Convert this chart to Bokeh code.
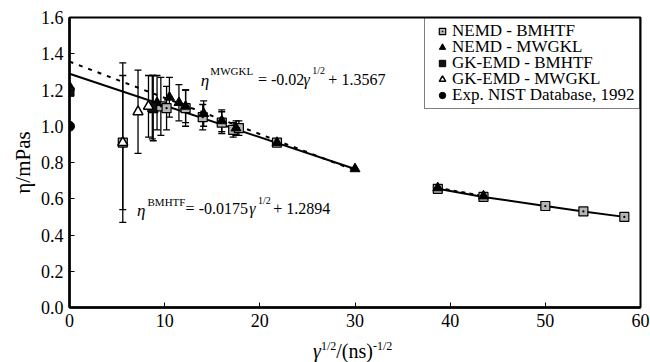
import math
from bokeh.plotting import figure
from bokeh.layouts import column
from bokeh.models import (ColumnDataSource, Whisker, TeeHead, Label, Legend,
                          LegendItem, NumeralTickFormatter, Div)
from bokeh.embed import file_html
from bokeh.resources import INLINE

# ---------------- data ----------------
x_ticks = [0, 10, 20, 30, 40, 50, 60]
y_ticks = [0.0, 0.2, 0.4, 0.6, 0.8, 1.0, 1.2, 1.4, 1.6]

nemd_bmhtf_x = [5.6, 8.8, 9.6, 10.2, 12.2, 14.0, 16.0, 17.2, 17.8, 21.8, 38.7, 43.5, 50.0, 54.0, 58.3]
nemd_bmhtf_y = [0.91, 1.10, 1.11, 1.10, 1.10, 1.05, 1.02, 0.98, 0.99, 0.91, 0.655, 0.61, 0.56, 0.53, 0.50]
nemd_bmhtf_err = [0.44, 0.18, 0.16, 0.12, 0.10, 0.07, 0.06, 0.04, 0.04, 0.02, 0, 0, 0, 0, 0]

nemd_mwgkl_x = [0.0, 9.2, 10.5, 11.5, 12.2, 14.1, 16.0, 17.5, 21.8, 30.0, 38.7, 43.5]
nemd_mwgkl_y = [1.22, 1.13, 1.16, 1.13, 1.11, 1.07, 1.03, 0.99, 0.91, 0.765, 0.66, 0.615]
nemd_mwgkl_err = [0, 0.15, 0.11, 0.10, 0.09, 0.07, 0.06, 0.04, 0.02, 0, 0, 0]

gk_bmhtf_x = [0.0, 8.7]
gk_bmhtf_y = [1.19, 1.105]
gk_bmhtf_err = [0, 0.175]

gk_mwgkl_x = [5.6, 7.2, 8.3]
gk_mwgkl_y = [0.91, 1.08, 1.11]
gk_mwgkl_err = [0.37, 0.23, 0.17]

nist_x = [0.0]
nist_y = [1.0]

fit_x = [0.0, 30.0]
bmhtf_fit_y = [1.2894, 0.7644]
mwgkl_fit_y = [1.3567, 0.7567]

legend_labels = ["NEMD - BMHTF", "NEMD - MWGKL", "GK-EMD - BMHTF",
                 "GK-EMD - MWGKL", "Exp. NIST Database, 1992"]

SERIF = "Liberation Serif"

p = figure(width=650, height=336, x_range=(0, 60), y_range=(0, 1.6),
           output_backend="svg", toolbar_location=None,
           min_border_left=69, min_border_right=10, min_border_top=17,
           min_border_bottom=29)
p.xgrid.visible = False
p.ygrid.visible = False
p.outline_line_color = "black"
p.outline_line_width = 2
p.outline_line_alpha = 1

for ax in (p.xaxis[0], p.yaxis[0]):
    ax.axis_line_width = 2.5
    ax.major_tick_in = 5
    ax.major_tick_out = 0
    ax.major_tick_line_width = 1
    ax.minor_tick_line_color = None
    ax.major_label_text_font = SERIF
    ax.major_label_text_font_size = "18px"
    ax.major_label_text_color = "black"
    ax.major_label_standoff = 6
p.xaxis.ticker = x_ticks
p.yaxis.ticker = y_ticks
p.yaxis.formatter = NumeralTickFormatter(format="0.0")
p.yaxis.axis_label = "η/mPas"
p.yaxis.axis_label_text_font = SERIF
p.yaxis.axis_label_text_font_size = "21px"
p.yaxis.axis_label_text_font_style = "normal"
p.yaxis.axis_label_text_color = "black"
p.yaxis.axis_label_standoff = 3


def whiskers(xs, ys, es):
    bx, up, lo = [], [], []
    for x, y, e in zip(xs, ys, es):
        if e > 0:
            bx.append(x)
            up.append(y + e)
            lo.append(y - e)
    src = ColumnDataSource(dict(x=bx, upper=up, lower=lo))
    w = Whisker(source=src, base="x", upper="upper", lower="lower",
                dimension="height", line_width=1.3, line_color="black",
                upper_head=TeeHead(size=7, line_width=1.3, line_color="black"),
                lower_head=TeeHead(size=7, line_width=1.3, line_color="black"))
    p.add_layout(w)


whiskers(gk_bmhtf_x, gk_bmhtf_y, gk_bmhtf_err)
whiskers(nemd_bmhtf_x, nemd_bmhtf_y, nemd_bmhtf_err)
whiskers(nemd_mwgkl_x, nemd_mwgkl_y, nemd_mwgkl_err)
whiskers(gk_mwgkl_x, gk_mwgkl_y, gk_mwgkl_err)

# fit lines
p.line(fit_x, bmhtf_fit_y, line_width=2, line_color="black")
p.line(fit_x, mwgkl_fit_y, line_width=2, line_color="black", line_dash="4 6")
# high-rate segments
p.line(nemd_bmhtf_x[10:], nemd_bmhtf_y[10:], line_width=2, line_color="black")
p.line(nemd_mwgkl_x[10:], nemd_mwgkl_y[10:], line_width=2, line_color="black", line_dash="4 4")

r1 = p.scatter(nemd_bmhtf_x, nemd_bmhtf_y, marker="square_dot", size=9,
               fill_color="#b5b5b5", line_color="black", line_width=1.2)
r2 = p.scatter(nemd_mwgkl_x, nemd_mwgkl_y, marker="triangle", size=10,
               fill_color="black", line_color="black")
r3 = p.scatter(gk_bmhtf_x, gk_bmhtf_y, marker="square", size=9,
               fill_color="#111111", line_color="black")
r4 = p.scatter(gk_mwgkl_x, gk_mwgkl_y, marker="triangle", size=10,
               fill_color="white", line_color="black", line_width=1.5)
r5 = p.scatter(nist_x, nist_y, marker="circle", size=10,
               fill_color="black", line_color="black")

# legend box with glyphs (compact rows); texts drawn as labels
legend = Legend(items=[LegendItem(label=" ", renderers=[r])
                       for r in [r1, r2, r3, r4, r5]],
                location="top_right", margin=0, padding=5, spacing=0,
                label_height=16, glyph_height=16, glyph_width=24,
                label_width=180, label_standoff=0,
                label_text_font_size="8px",
                border_line_color="black", border_line_width=1.5,
                background_fill_alpha=0)
p.add_layout(legend)

# legend row centres (data units of the frame)
legend_text_x = 40.2
legend_text_y = [1.528, 1.440, 1.352, 1.263, 1.175]
for lab, ly in zip(legend_labels, legend_text_y):
    p.add_layout(Label(x=legend_text_x, y=ly, text=lab, text_font=SERIF,
                       text_font_size="17px", text_color="black",
                       text_baseline="middle", text_align="left"))


def lbl(px, py, text, size, italic=False):
    p.add_layout(Label(x=px, y=py, text=text, text_font=SERIF,
                       text_font_size=size, text_color="black",
                       text_font_style="italic" if italic else "normal",
                       text_baseline="alphabetic", text_align="left"))


# equation MWGKL
lbl(13.8, 1.254, "η", "17px", True)
lbl(14.8, 1.305, "MWGKL", "11px")
lbl(19.8, 1.258, "= -0.02", "16px")
lbl(24.6, 1.258, "γ", "16px", True)
lbl(25.5, 1.305, "1/2", "10px")
lbl(27.2, 1.258, "+ 1.3567", "16px")

# equation BMHTF
lbl(7.1, 0.535, "η", "17px", True)
lbl(8.2, 0.582, "BMHTF", "11px")
lbl(12.2, 0.546, "= -0.0175", "16px")
lbl(18.9, 0.546, "γ", "16px", True)
lbl(19.8, 0.593, "1/2", "10px")
lbl(21.4, 0.546, "+ 1.2894", "16px")

# x-axis label below the figure
sup = 'style="font-size:12px; line-height:0; vertical-align:8px"'
xlabel = Div(width=650, height=26,
             text=('<div style="padding-left:308px; font-family:\'Liberation Serif\';'
                   ' font-size:20px; line-height:20px; color:black; white-space:nowrap">'
                   f'<i>γ</i><span {sup}>1/2</span>/(ns)'
                   f'<span {sup}>-1/2</span></div>'))

layout = column(p, xlabel, spacing=0)
open("out.html", "w").write(file_html(layout, INLINE))
